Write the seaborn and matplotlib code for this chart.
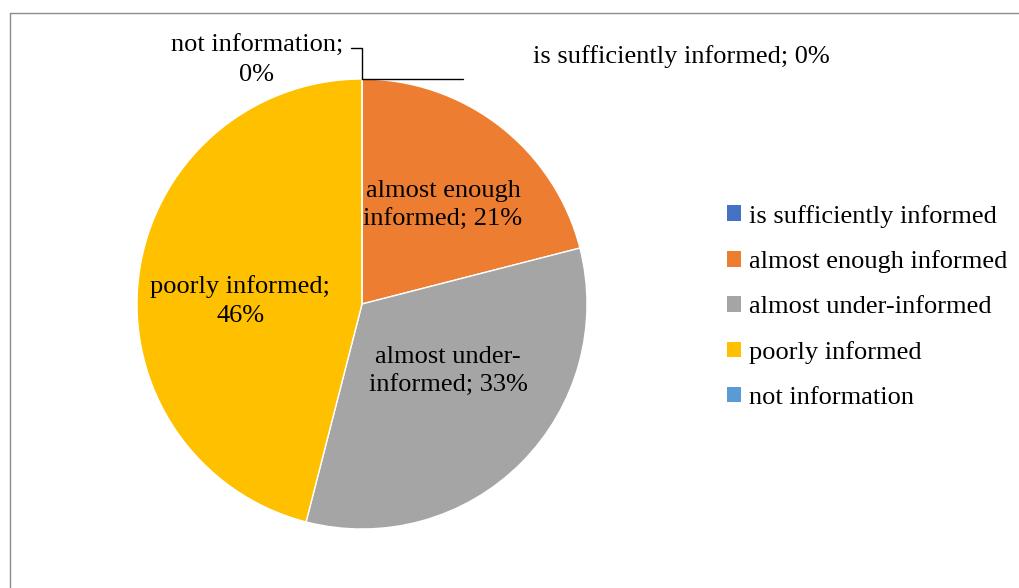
import numpy as np
import matplotlib
matplotlib.use("Agg")
import matplotlib.pyplot as plt
from matplotlib.lines import Line2D
from matplotlib.patches import Patch
import seaborn as sns

categories = ["is sufficiently informed", "almost enough informed",
              "almost under-informed", "poorly informed", "not information"]
values = [0, 21, 33, 46, 0]
slice_labels = ["is sufficiently informed; 0%", "almost enough\ninformed; 21%",
                "almost under-\ninformed; 33%", "poorly informed;\n46%",
                "not information;\n0%"]
colors = ["#4472C4", "#ED7D31", "#A5A5A5", "#FFC000", "#5B9BD5"]

sns.set_theme(style="white")
plt.rcParams['font.family'] = ['Liberation Serif', 'DejaVu Serif']
plt.rcParams['text.color'] = 'black'
FS = 19
LS = 1.4

W, H = 1019, 588
fig = plt.figure(figsize=(W / 100, H / 100), dpi=100)
cx, cy, R = 362, 304, 225
ax = fig.add_axes([(cx - R) / W, (H - cy - R) / H, 2 * R / W, 2 * R / H])

wedges, _ = ax.pie(values, colors=colors, startangle=90, counterclock=False,
                   radius=1, wedgeprops=dict(edgecolor="white", linewidth=1))
ax.set_xlim(-1, 1)
ax.set_ylim(-1, 1)
ax.set_aspect("equal")
ax.axis("off")

# inside labels
total = sum(values)
cum = np.cumsum([0] + values)
label_r = {1: 0.568, 2: 0.485, 3: 0.542}
label_shift = {1: 1.5, 2: -7.1, 3: -5.8}
for i in (1, 2, 3):
    mid = (cum[i] + values[i] / 2) / total * 360 + label_shift[i]
    theta = np.deg2rad(90 - mid)
    r = label_r[i]
    ax.text(r * np.cos(theta), r * np.sin(theta), slice_labels[i],
            ha="center", va="center", fontsize=FS, color="black",
            linespacing=LS)

# outside labels for 0% slices with leader lines
ax.text(-0.467, 1.082, slice_labels[4], ha="center", va="center",
        fontsize=FS, color="black", linespacing=LS, clip_on=False)
ax.text(0.76, 1.100, slice_labels[0], ha="left", va="center",
        fontsize=FS, color="black", clip_on=False)
ax.add_line(Line2D([0, 0.449], [1, 1], color="black", lw=1, clip_on=False))
ax.add_line(Line2D([0, 0, -0.049], [1, 1.138, 1.138], color="black", lw=1,
                   clip_on=False))

# legend
handles = [Patch(facecolor=c, edgecolor="none") for c in colors]
fig.legend(handles, categories, loc="upper left",
           bbox_to_anchor=(716 / W, 1 - 194 / H), frameon=False,
           fontsize=FS, handlelength=0.55, handleheight=0.55,
           handletextpad=0.3, labelspacing=0.86, borderaxespad=0,
           labelcolor="black")

# chart frame
fc = "#8c8c8c"
fig.add_artist(Line2D([10 / W, 1], [1 - 13 / H, 1 - 13 / H], color=fc, lw=1))
fig.add_artist(Line2D([10 / W, 10 / W], [1 - 13 / H, 0], color=fc, lw=1))

fig.savefig("out.png", dpi=100)
